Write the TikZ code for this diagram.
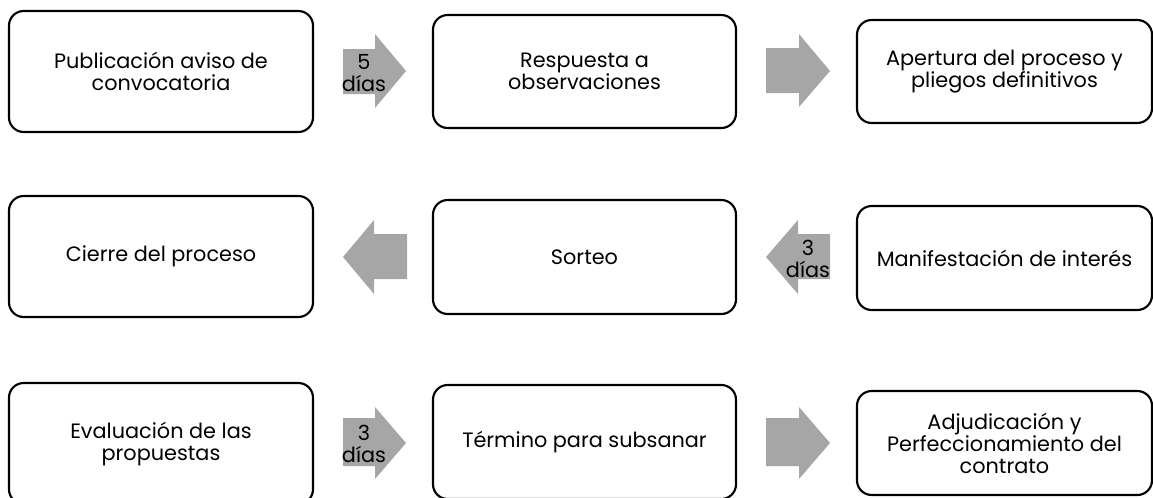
\documentclass[tikz,border=0pt]{standalone}
\usepackage{fontspec}
\setmainfont{Poppins}
\begin{document}
\begin{tikzpicture}[x=0.75pt,y=-0.75pt,
  stepbox/.style={draw=black,line width=1.6pt,rounded corners=11pt,fill=white,align=center,
    font=\fontsize{15.6}{16.5}\selectfont,inner sep=0pt},
  arrowfill/.style={fill=arrowgray,draw=none},
  arrowtext/.style={align=center,font=\fontsize{15.6}{16.5}\selectfont,inner sep=0pt}]
\definecolor{arrowgray}{HTML}{A6A6A6}
\useasboundingbox (0,0) rectangle (1153,497);
% boxes
\node[stepbox,minimum width=304*0.75pt,minimum height=121*0.75pt] (b1) at (161,71.5) {Publicación aviso de\\convocatoria};
\node[stepbox,minimum width=303*0.75pt,minimum height=113*0.75pt] (b2) at (584.5,71.5) {Respuesta a\\observaciones};
\node[stepbox,minimum width=295*0.75pt,minimum height=103*0.75pt] (b3) at (1004.5,71.5) {Apertura del proceso y\\pliegos definitivos};
\node[stepbox,minimum width=304*0.75pt,minimum height=121*0.75pt] (b4) at (161,256.5) {Cierre del proceso};
\node[stepbox,minimum width=303*0.75pt,minimum height=114*0.75pt] (b5) at (584.5,257) {Sorteo};
\node[stepbox,minimum width=295*0.75pt,minimum height=104*0.75pt] (b6) at (1004.5,258) {Manifestación de interés};
\node[stepbox,minimum width=304*0.75pt,minimum height=121*0.75pt] (b7) at (161,443.5) {Evaluación de las\\propuestas};
\node[stepbox,minimum width=303*0.75pt,minimum height=114*0.75pt] (b8) at (584.5,442) {Término para subsanar};
\node[stepbox,minimum width=295*0.75pt,minimum height=104*0.75pt] (b9) at (1004.5,443) {Adjudicación y\\Perfeccionamiento del\\contrato};
% right arrows row 1
\fill[arrowfill] (343,49) -- (375,49) -- (375,34) -- (406,71) -- (375,108) -- (375,94) -- (343,94) -- cycle;
\node[arrowtext] (t1) at (364,73) {5\\días};
\fill[arrowfill] (766,48) -- (799,48) -- (799,34) -- (830,71) -- (799,107) -- (799,93) -- (766,93) -- cycle;
% left arrows row 2
\fill[arrowfill] (407,234) -- (374,234) -- (374,220) -- (343,257) -- (374,294) -- (374,279) -- (407,279) -- cycle;
\fill[arrowfill] (830,234) -- (798,234) -- (798,220) -- (766,257) -- (798,294) -- (798,279) -- (830,279) -- cycle;
\node[arrowtext] (t2) at (808,259) {3\\días};
% right arrows row 3
\fill[arrowfill] (343,418) -- (375,418) -- (375,407) -- (406,443) -- (375,479) -- (375,466) -- (343,466) -- cycle;
\node[arrowtext] (t3) at (364,444) {3\\días};
\fill[arrowfill] (766,418) -- (799,418) -- (799,407) -- (830,443) -- (799,479) -- (799,466) -- (766,466) -- cycle;
\end{tikzpicture}
\end{document}
